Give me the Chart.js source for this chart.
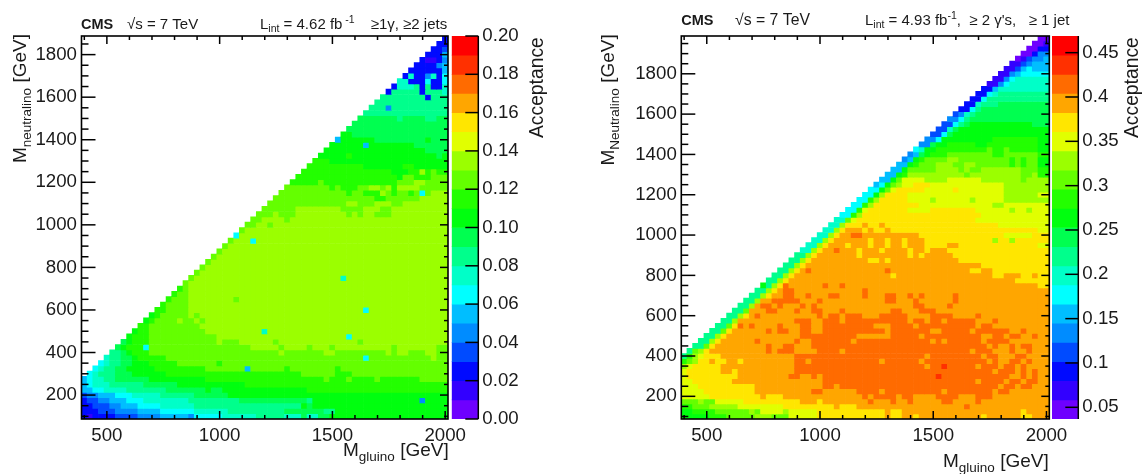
<!DOCTYPE html>
<html>
<head>
<meta charset="utf-8">
<style>
  html, body { margin: 0; padding: 0; background: #fff; overflow: hidden; }
  canvas { position: absolute; top: 0; }
</style>
<script src="https://cdn.jsdelivr.net/npm/chart.js@4"></script>
</head>
<body>
<canvas id="left-plot" width="571" height="474" style="left:0"></canvas>
<canvas id="left-scale" width="571" height="474" style="left:0"></canvas>
<canvas id="right-plot" width="571" height="474" style="left:571px"></canvas>
<canvas id="right-scale" width="571" height="474" style="left:571px"></canvas>
<script>
const gluinoStart = 400, neutralinoStart = 100, binStep = 25;

const xMajor = [500, 1000, 1500, 2000];
const xMinor = [400, 600, 700, 800, 900, 1100, 1200, 1300, 1400, 1600, 1700, 1800, 1900];
const yMajor = [200, 400, 600, 800, 1000, 1200, 1400, 1600, 1800];
const yMinor = [100, 150, 250, 300, 350, 450, 500, 550, 650, 700, 750, 850, 900, 950, 1050, 1100, 1150, 1250, 1300, 1350, 1450, 1500, 1550, 1650, 1700, 1750, 1850, 1900, 1950];

const leftZTicks = [0, 0.02, 0.04, 0.06, 0.08, 0.10, 0.12, 0.14, 0.16, 0.18, 0.20];
const rightZTicks = [0.05, 0.1, 0.15, 0.2, 0.25, 0.3, 0.35, 0.4, 0.45];

const palette = ['#6e00ff', '#3200ff', '#000aff', '#004bff', '#008cff', '#00beff', '#00ffff', '#00ffc8', '#00ff8c', '#00ff50',
  '#00ff0f', '#23ff00', '#64ff00', '#9bff00', '#e1ff00', '#ffe600', '#ffa600', '#ff6b00', '#ff3000', '#ff0000'];

// one string per neutralino bin, bottom row first. letter = contour band a..t, number = how many gluino bins, '.' = empty
const leftRows = [
  'c1b1c4d4e4f5e1g5h6i5h3j1h2j2k21',
  'c3d3e4f4g6h6i10j7i2k20',
  'c2d3e2f3g4h6i19k1j1k24',
  'c1d2e2f3g3h8i9j12i1k19e1k4',
  'd1e2f3g3h5i6j6k39',
  'f2g2h4i7j7k1j2k15l25',
  'f1g1h3i6j6k12l36',
  'f1g1h2i2j6k10l21m1l3m1l4m1l7m5',
  '.1g1h1i3j3k6l24m6l3m17',
  '.2g1h1i2j2k5l9m7f1m6l1m8l1m19',
  '.3g1h1i2j2k3l5m7l1m40',
  '.4h1i2j2k1l5m35g1m11n1m2',
  '.5i2j1k1l3m23n1m7n2m9n1m1n2m3n2m2',
  '.6j1k1l3g1m18n5m1n4m1n3m1n10m1n7m2',
  '.7j1k1l3m12n1m3n6m1n14m1n15',
  '.8k1l3m12n23g1n17',
  '.9k1l2m10n10h1n32',
  '.10l2m9n44',
  '.11k1l1m4n1m2n1m1n43',
  '.12k1l1m5n1m1n44',
  '.13l2m4n31g1n14',
  '.14l1m4n46',
  '.15l1m3n8m1n37',
  '.16l1m2n46',
  '.17l1m1n46',
  '.18m1n46',
  '.19m1n26h1n18',
  '.20m1n44',
  '.21m1n43',
  '.22m1n42',
  '.23m1n41',
  '.24m1n40',
  '.25m1n39',
  '.26m1n3g1n34',
  '.27g1n37',
  '.28m1n36',
  '.29m2n2m1n31',
  '.30m2n4m1n28',
  '.31m3n1m3n9m1n1m1n2m3n10',
  '.32m6n8m4n3m2n10',
  '.33m14n2m3n3m2n8',
  '.34m18l2m6n5',
  '.35m12l1m2l3n1m1l1m2l1m1g1m1n3',
  '.36m8l1m1l3m2n2m1n1l1n4m5',
  '.37l5m1l13m3n2m4',
  '.38l18k1m2l3m3',
  '.39l16k3l2n1l1m1l2',
  '.40l10k7l2k6',
  '.41l3k21',
  '.42k5l1k15j1k1',
  '.43k18j4',
  '.44k6f1k8j6',
  '.45f1k6j9k1j3',
  '.46k2j17',
  '.47j18',
  '.48j17',
  '.49j7i1j4i2j2',
  '.50i15',
  '.51i3e1i10',
  '.52i13',
  '.53i8c1i3',
  '.54c1i5c1i3h1',
  '.55c1h3i1c1i1c2h1',
  '.56h2c3g1c2g1',
  '.57c1h1c2e1h1c1g1',
  '.58c6f1',
  '.59c4e1f1',
  '.60c1b2c1e1',
  '.61c3f1',
  '.62c2d1',
  '.63c2',
  '.64c1'
];

const rightRows = [
  'k5l3m5n3m3o5p12q1p2q2p1q11p1q6p2q3',
  'k2l4m6n1m1o4n1o5p12q1p2q21p1q4',
  'l2m3n5o8p9q1p3q19r1q14',
  'm3n1m2o5p10q3p1q8r1q3r1q2r1q5r2q4r1q12',
  'o5p9q1p3q14r1q1r4q1r2q4r4q3r3q10',
  'o4p9q10r2q6r4q1r10q1r8q1r2q7',
  'o3p10q12r2q1r4r24q1r2q1r2q3',
  'o2p7q16r27q1r4q1r2q1r2q2',
  'o1p9q9r2q2r1q1r20s1r12q2r1q1r1q2',
  'o1p6q2p1q10r35q1r3q1r1q1r1q2',
  'n1o1p5q13r23q1r2s1r5q1r3q1r2q1r1q4',
  'l1m1n1p2q1p2q2p1q9r2q1r12q1r6q1r11q1r1q2r2q1r1q3',
  'i1l1n1o1p3q13r23q1r9q1r2q3r2q4',
  '.1i1m1n1p1q10r1q1r3q4r4q1r22q1r3q3r1q2r1q3',
  '.2i2m1p1q9r1q2r2q3r2r29q1r1q2r1q1r2q3',
  '.3i2n1p1q6r1q6r1q2r7q1r13q1r1q1r6q1r4q7',
  '.4i2n1p1q13r2r8q5q1r5q1r10q2r2q1r2q2r1q2',
  '.5i2m1p1q6r1q1r2q2r2q2r8r3q1r7q2r5q1r6q2r1q4',
  '.6i2m1p1r1q1r1q4r1q3r2q2r9q3r4q1r10q1r2q10',
  '.7i2n1q10r3q2r3q1r11q1r2q1r2q1r5q3r1q9',
  '.8i2n1p1q1r1q10r1q1r2q1r3q3r5q4r4q4r1q12',
  '.9i2m1q3r2q3r1q2r2q3r1q8r2q3r3q20',
  '.10i2n1q1r2q1r1q3r1q1r1q17r2q4r1q17',
  '.11i2n1q2r5q3r1q11r2q3r1q6r1q16',
  '.12i2n1p1q2r2q2r1q3r2q4r1q3r2q2r1q1r1q5r1q16',
  '.13i2n1p1q1r2q12r1q32',
  '.14k1i1n1p1r1q6r1q2r1q34p2',
  '.15i2n1p1q40p6',
  '.16i2n1p1q17p1q17p2q3p2q1p2',
  '.17i2n1p1q1r1q13r1q14p2q2p10',
  '.18i2n1p1q31p12',
  '.19i2n1p1q10p2q1p1q12p16',
  '.20i2n1p1q7p1q8p1q1p1q5p17',
  '.21h2n1p1q2r1q3p1q3p1q4p1q2p1q3p18',
  '.22h2n1p1q3p1q3p1q2p1q2p1q3p4q2p14o2',
  '.23h2n1p1q6p1q2p1q2p1q3p12n1p2n1p6',
  '.24h2n1p1q2r2q10p15o5p3',
  '.25h2n1p1q3p1q1p2q1p26o2',
  '.26h2n1p3q1p2q1p20o9',
  '.27h2m1o1p21o13',
  '.28g2l1n1p21o12',
  '.29g2l1o1p7o4p8o6n1o2n1o3',
  '.30g2l1n1p8o13n2o8',
  '.31g2l1n1p5o4n1o6n1o5n8',
  '.32g2k1n1p4o17n6o2',
  '.33g2k1m1o1p5o4o1p1o8n8',
  '.34f1g1k1m1n1o2p3o13n8',
  '.35f2k1m1o4n4o6n7m1n4',
  '.36f2k1l1n10m1n9m2n1l2',
  '.37f2k1m5n4m1n1m2n7m3l2',
  '.38f2k1l1m3n3m2n2m6l1m1l1m2k2',
  '.39e1f1k1l1m4n2m8m1l1m1l1m2k2',
  '.40e1f1j1k1l3m8l2m6l2',
  '.41g1h1k2l9m1l2m1l5k2',
  '.42e2j1k2l5k2l9k2',
  '.43e2g1k3k6l8k2',
  '.44d2g1j1k17',
  '.45d2h1j1k16',
  '.46d2g1i1j1k11j3',
  '.47e2g1i1j14',
  '.48d1e1h1i1j13',
  '.49c2g1i1j12',
  '.50c2h1i3j9',
  '.51c2g1i11',
  '.52c2g1h1i9',
  '.53c2f1h9',
  '.54b2e1g1h7',
  '.55b2e1g1h6',
  '.56b2e1f1g5',
  '.57b2d1f1g1f3',
  '.58b2d1e1f3',
  '.59a1b1d1e2f1',
  '.60a2c1e2',
  '.61a2c2',
  '.62a2b1',
  '.63a2'
];

function expandRow(row) {
  const cells = [];
  for (const run of row.matchAll(/([a-t.])(\d+)/g)) {
    for (let i = 0; i < Number(run[2]); i++) cells.push(run[1]);
  }
  return cells;
}

function buildCells(rows, zMin, zStep) {
  const cells = [];
  rows.forEach((row, r) => {
    const mass = neutralinoStart + r * binStep;
    expandRow(row).forEach((code, c) => {
      if (code === '.' || c > 64) return;
      const band = code.charCodeAt(0) - 97;
      cells.push({
        x: gluinoStart + c * binStep,
        y: [mass - binStep / 2, mass + binStep / 2],
        z: zMin + (band + 0.5) * zStep
      });
    });
  });
  return cells;
}

// text with sub/superscripts, runs go one after the other from (x, y)
function textRuns(ctx, x, y, angle, runs) {
  ctx.save();
  ctx.translate(x, y);
  ctx.rotate(angle);
  ctx.fillStyle = '#1a1a1a';
  ctx.textAlign = 'left';
  ctx.textBaseline = 'alphabetic';
  let pos = 0;
  runs.forEach(run => {
    ctx.font = (run.bold ? 'bold ' : '') + run.size + 'px "Liberation Sans"';
    if (run.gap) pos += run.gap;
    ctx.fillText(run.text, pos, run.dy || 0);
    pos += ctx.measureText(run.text).width;
  });
  ctx.restore();
}

function tickLine(ctx, x1, y1, x2, y2) {
  ctx.beginPath();
  ctx.moveTo(x1, y1);
  ctx.lineTo(x2, y2);
  ctx.stroke();
}

function framePlugin(labels) {
  return {
    id: 'frame',
    afterDraw(chart) {
      const ctx = chart.ctx, a = chart.chartArea, sx = chart.scales.x, sy = chart.scales.y;
      ctx.save();
      ctx.strokeStyle = '#000';
      ctx.lineWidth = 1.5;
      xMajor.forEach(v => {
        const p = sx.getPixelForValue(v);
        tickLine(ctx, p, a.bottom, p, a.bottom - 8);
        tickLine(ctx, p, a.top, p, a.top + 8);
      });
      xMinor.forEach(v => {
        const p = sx.getPixelForValue(v);
        tickLine(ctx, p, a.bottom, p, a.bottom - 4);
        tickLine(ctx, p, a.top, p, a.top + 4);
      });
      yMajor.forEach(v => {
        const p = sy.getPixelForValue(v);
        tickLine(ctx, a.left, p, a.left + 14, p);
        tickLine(ctx, a.right, p, a.right - 8, p);
      });
      yMinor.forEach(v => {
        if (v > sy.max) return;
        const p = sy.getPixelForValue(v);
        tickLine(ctx, a.left, p, a.left + 7, p);
        tickLine(ctx, a.right, p, a.right - 4, p);
      });
      ctx.lineWidth = 1.6;
      ctx.strokeRect(a.left, a.top, a.right - a.left, a.bottom - a.top);
      ctx.restore();
      labels(ctx);
    }
  };
}

function makePlot(canvasId, rows, yMax, leftWidth, rightPad, zMin, zStep, labels) {
  const cells = buildCells(rows, zMin, zStep);
  new Chart(document.getElementById(canvasId), {
    type: 'bar',
    data: {
      datasets: [{
        data: cells,
        backgroundColor: cells.map(c => palette[Math.floor((c.z - zMin) / zStep)]),
        barPercentage: 1,
        categoryPercentage: 1,
        borderWidth: 0
      }]
    },
    options: {
      responsive: false,
      animation: false,
      events: [],
      layout: { padding: { top: 36, right: rightPad, left: 0, bottom: 0 } },
      plugins: { legend: { display: false }, tooltip: { enabled: false } },
      scales: {
        x: {
          type: 'linear', offset: false, min: 387.5, max: 2012.5,
          grid: { display: false, drawTicks: false }, border: { display: false },
          afterBuildTicks(scale) { scale.ticks = xMajor.map(v => ({ value: v })); },
          afterFit(scale) { scale.height = 55; },
          ticks: { padding: 6, maxRotation: 0, autoSkip: false, color: '#1a1a1a', font: { family: 'Liberation Sans', size: 18.7 }, callback: v => String(v) }
        },
        y: {
          type: 'linear', min: 87.5, max: yMax,
          grid: { display: false, drawTicks: false }, border: { display: false },
          afterBuildTicks(scale) { scale.ticks = yMajor.map(v => ({ value: v })); },
          afterFit(scale) { scale.width = leftWidth; },
          ticks: { padding: 4.5, autoSkip: false, color: '#1a1a1a', font: { family: 'Liberation Sans', size: 18.7 }, callback: v => String(v) }
        }
      }
    },
    plugins: [framePlugin(labels)]
  });
}

function makeScale(canvasId, zMin, zStep, zTicks, leftPad, barWidth, labelFor, titleX) {
  const bands = palette.map((_, i) => ({ x: 0, y: [zMin + i * zStep, zMin + (i + 1) * zStep] }));
  new Chart(document.getElementById(canvasId), {
    type: 'bar',
    data: {
      datasets: [{
        data: bands,
        backgroundColor: palette,
        barThickness: barWidth,
        borderWidth: 0
      }]
    },
    options: {
      responsive: false,
      animation: false,
      events: [],
      layout: { padding: { top: 36, bottom: 55, left: leftPad, right: 0 } },
      plugins: { legend: { display: false }, tooltip: { enabled: false } },
      scales: {
        x: { type: 'linear', display: false, offset: false, min: -0.5, max: 0.5 },
        y: {
          type: 'linear', position: 'right', min: zMin, max: zMin + 20 * zStep,
          grid: { display: false, drawTicks: false }, border: { display: false },
          afterBuildTicks(scale) { scale.ticks = zTicks.map(v => ({ value: v })); },
          afterFit(scale) { scale.width = 571 - leftPad - barWidth; },
          ticks: {
            padding: 4, autoSkip: false, color: '#1a1a1a',
            font: { family: 'Liberation Sans', size: 18.7 },
            callback: labelFor
          }
        }
      }
    },
    plugins: [{
      id: 'scaleFrame',
      afterDraw(chart) {
        const ctx = chart.ctx, a = chart.chartArea, sy = chart.scales.y;
        ctx.save();
        ctx.strokeStyle = '#000';
        ctx.lineWidth = 1.5;
        zTicks.forEach(v => {
          const p = sy.getPixelForValue(v);
          tickLine(ctx, a.right, p, a.right - 13, p);
        });
        tickLine(ctx, a.right, a.top, a.right, a.bottom);
        ctx.restore();
        textRuns(ctx, titleX, 138, -Math.PI / 2, [{ text: 'Acceptance', size: 19.3 }]);
      }
    }]
  });
}

makePlot('left-plot', leftRows, 1887.5, 81.5, 123, 0, 0.01, ctx => {
  textRuns(ctx, 81, 29, 0, [{ text: 'CMS', size: 14.5, bold: true }]);
  textRuns(ctx, 127, 29, 0, [{ text: '√s = 7 TeV', size: 15 }]);
  textRuns(ctx, 260, 29, 0, [
    { text: 'L', size: 15 },
    { text: 'int', size: 10.5, dy: 3 },
    { text: ' = 4.62 fb', size: 15 },
    { text: ' -1', size: 10.5, dy: -6 }
  ]);
  textRuns(ctx, 370.7, 29, 0, [{ text: '≥1γ, ≥2 jets', size: 15 }]);
  textRuns(ctx, 343, 456, 0, [
    { text: 'M', size: 19 },
    { text: 'gluino', size: 13.5, dy: 5 },
    { text: ' [GeV]', size: 19 }
  ]);
  textRuns(ctx, 26, 163, -Math.PI / 2, [
    { text: 'M', size: 19 },
    { text: 'neutralino', size: 13.5, dy: 5 },
    { text: ' [GeV]', size: 19 }
  ]);
});
makeScale('left-scale', 0, 0.01, leftZTicks, 451.7, 26.6, v => v.toFixed(2), 543);

makePlot('right-plot', rightRows, 1987.5, 110.3, 92.7, 0.0368, 0.02160, ctx => {
  textRuns(ctx, 110.3, 25, 0, [{ text: 'CMS', size: 14.5, bold: true }]);
  textRuns(ctx, 164, 25, 0, [{ text: '√s = 7 TeV', size: 15.8 }]);
  textRuns(ctx, 294, 25, 0, [
    { text: 'L', size: 15 },
    { text: 'int', size: 10.5, dy: 3 },
    { text: ' = 4.93 fb', size: 15 },
    { text: '-1', size: 10.5, dy: -6 },
    { text: ',  ≥ 2 γ\'s,   ≥ 1 jet', size: 15 }
  ]);
  textRuns(ctx, 372, 467, 0, [
    { text: 'M', size: 19 },
    { text: 'gluino', size: 13.5, dy: 5 },
    { text: ' [GeV]', size: 19 }
  ]);
  textRuns(ctx, 43, 165.5, -Math.PI / 2, [
    { text: 'M', size: 19 },
    { text: 'Neutralino', size: 13.5, dy: 5 },
    { text: ' [GeV]', size: 19 }
  ]);
});
makeScale('right-scale', 0.0368, 0.0216, rightZTicks, 481, 26.3, v => String(v), 567.3);
</script>
</body>
</html>
